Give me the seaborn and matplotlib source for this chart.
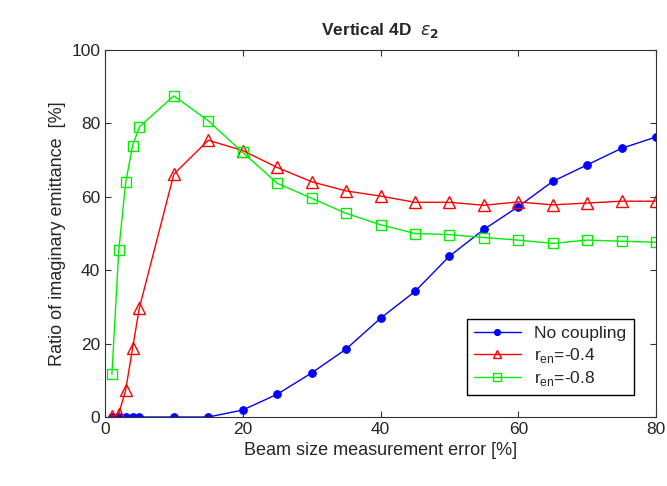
import pandas as pd
import seaborn as sns
import matplotlib.pyplot as plt

# beam size measurement error [%]
err = [1, 2, 3, 4, 5, 10, 15, 20, 25, 30, 35, 40, 45, 50, 55, 60, 65, 70, 75, 80]

# ratio of imaginary emittance [%]
no_coupling = [0, 0, 0, 0, 0, 0, 0, 1.9, 6.2, 12.0, 18.5, 26.9, 34.2, 43.8,
               51.1, 57.3, 64.2, 68.7, 73.2, 76.3]
r_en_04 = [0.2, 0.9, 7.3, 18.7, 29.8, 66.2, 75.4, 72.6, 68.0, 64.1, 61.6, 60.2,
           58.5, 58.5, 57.7, 58.6, 57.8, 58.3, 58.8, 58.8]
r_en_08 = [11.6, 45.4, 63.9, 73.9, 79.1, 87.5, 80.7, 72.1, 63.7, 59.6, 55.5, 52.4,
           50.0, 49.7, 48.9, 48.2, 47.3, 48.2, 47.9, 47.6]

sns.set_style('ticks')
plt.rcParams['font.family'] = ['Liberation Sans', 'DejaVu Sans']
plt.rcParams['mathtext.fontset'] = 'dejavusans'

fig = plt.figure(figsize=(6.67, 4.86), dpi=100)
ax = fig.add_axes([105 / 667, 1 - 417 / 486, 551 / 667, 367 / 486])

df = pd.DataFrame({'err': err, 'a': no_coupling, 'b': r_en_04, 'c': r_en_08})

sns.lineplot(x='err', y='a', data=df, ax=ax, color='#0000ff', marker='o',
             markersize=5.5, markeredgecolor='#0000ff', linewidth=1,
             label='No coupling')
sns.lineplot(x='err', y='b', data=df, ax=ax, color='#ff0000', marker='^',
             markersize=8, markerfacecolor='none', markeredgecolor='#ff0000',
             markeredgewidth=1, linewidth=1, label=r'r$_{\mathregular{en}}$=-0.4')
sns.lineplot(x='err', y='c', data=df, ax=ax, color='#00ee00', marker='s',
             markersize=7, markerfacecolor='none', markeredgecolor='#00ee00',
             markeredgewidth=1, linewidth=1, label=r'r$_{\mathregular{en}}$=-0.8')

ax.set_xlim(0, 80)
ax.set_ylim(0, 100)
ax.set_xticks([0, 20, 40, 60, 80])
ax.set_yticks([0, 20, 40, 60, 80, 100])

for s in ax.spines.values():
    s.set_visible(True)
    s.set_color('#333333')
    s.set_linewidth(0.8)
ax.tick_params(direction='in', top=True, right=True, length=4, labelsize=12.5,
               color='#333333')

ax.set_xlabel('Beam size measurement error [%]', fontsize=13)
ax.set_ylabel('Ratio of imaginary emittance  [%]', fontsize=13)
ax.set_title(r'Vertical 4D  $\epsilon_{\mathbf{2}}$', fontweight='bold',
             fontsize=12.5, pad=11)

leg = ax.legend(loc='lower right', bbox_to_anchor=(0.975, 0.036), fontsize=12.5,
                frameon=True, fancybox=False, framealpha=1, edgecolor='black',
                handlelength=2.7, borderpad=0.4, labelspacing=0.25,
                markerscale=0.8)
leg.get_frame().set_linewidth(1)

fig.savefig('out.png', dpi=100)
